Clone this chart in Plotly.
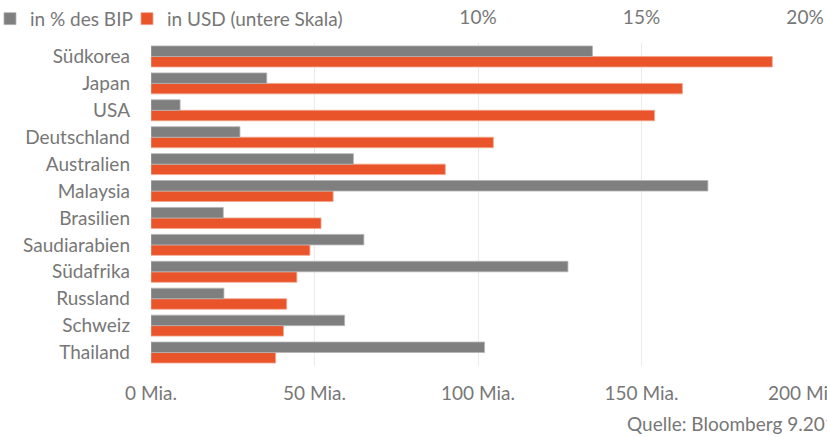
import plotly.graph_objects as go

laender = ["Südkorea", "Japan", "USA", "Deutschland", "Australien", "Malaysia",
           "Brasilien", "Saudiarabien", "Südafrika", "Russland", "Schweiz", "Thailand"]
bip_pct = [13.5, 3.54, 0.89, 2.72, 6.19, 17.03, 2.21, 6.51, 12.75, 2.23, 5.92, 10.2]
usd_mia = [190.0, 162.5, 154.0, 104.7, 90.0, 55.7, 52.0, 48.6, 44.6, 41.5, 40.5, 38.1]
usd_ticks = [0, 50, 100, 150, 200]
usd_ticktext = ["0 Mia.", "50 Mia.", "100 Mia.", "150 Mia.", "200 Mia."]
pct_ticks = [10, 15, 20]
pct_ticktext = ["10%", "15%", "20%"]

GREY = "#7f7f7f"
ORANGE = "#e9542a"
TXT = "#777777"
FONT = "Lato"

fig = go.Figure()
fig.add_trace(go.Bar(
    name="in % des BIP", y=laender, x=bip_pct, orientation="h",
    xaxis="x2", yaxis="y", width=0.39, offset=-0.39, legend="legend",
    marker=dict(color=GREY, line=dict(color="#b4b4b4", width=0.8)),
))
fig.add_trace(go.Bar(
    name="in USD (untere Skala)", y=laender, x=usd_mia, orientation="h",
    xaxis="x", yaxis="y", width=0.39, offset=0, legend="legend2",
    marker=dict(color=ORANGE, line=dict(color="#f2a48c", width=0.8)),
))

leg_common = dict(orientation="h", xanchor="left", y=1.075, yanchor="middle",
                  font=dict(family=FONT, size=19, color=TXT),
                  bgcolor="rgba(0,0,0,0)", itemclick=False, itemdoubleclick=False)

fig.update_layout(
    width=827, height=437,
    margin=dict(l=151, r=22, t=43, b=71, autoexpand=False),
    paper_bgcolor="white", plot_bgcolor="white",
    barmode="overlay",
    font=dict(family=FONT, size=19, color=TXT),
    showlegend=True,
    legend=dict(x=-0.2462, **leg_common),
    legend2=dict(x=-0.0367, **leg_common),
    xaxis=dict(range=[0, 200], tickmode="array", tickvals=usd_ticks, ticktext=usd_ticktext,
               showgrid=True, gridcolor="#ebebeb", gridwidth=1,
               zeroline=False, showline=False, ticks="",
               ticklabelstandoff=14, automargin=False, ticklabeloverflow="allow",
               tickfont=dict(family=FONT, size=19, color=TXT)),
    xaxis2=dict(range=[0, 20], overlaying="x", side="top", tickmode="array",
                tickvals=pct_ticks, ticktext=pct_ticktext,
                showgrid=False, zeroline=False, showline=False,
                ticks="", ticklabelstandoff=14, automargin=False, ticklabeloverflow="allow",
                tickfont=dict(family=FONT, size=19, color=TXT)),
    yaxis=dict(type="category", categoryorder="array", categoryarray=laender,
               autorange="reversed", showgrid=False, zeroline=False, showline=False,
               ticks="", ticklabelstandoff=20, automargin=False,
               tickfont=dict(family=FONT, size=19, color=TXT)),
    annotations=[dict(text="Quelle: Bloomberg 9.2019", xref="paper", yref="paper",
                      x=0.7248, y=-0.177, xanchor="left", yanchor="middle",
                      showarrow=False, font=dict(family=FONT, size=19, color=TXT))],
)

fig.write_html("out.html", config={"displayModeBar": False},
               post_script="document.body.style.margin='0';document.body.style.padding='0';")
